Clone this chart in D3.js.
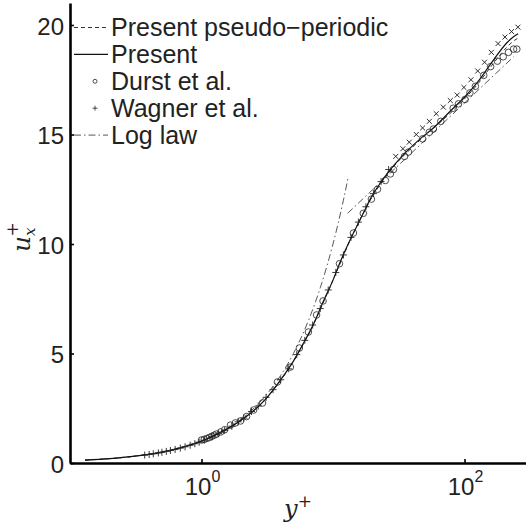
<!DOCTYPE html>
<html lang="en">
<head>
    <meta charset="UTF-8">
    <title>u+ profile</title>
    <script src="https://d3js.org/d3.v7.min.js"></script>
    <style>
        body { margin: 0; background: white; }
        .axis path, .axis line { stroke: black; }
        .axis path { stroke-width: 2.6; }
        .axis line { stroke-width: 1.6; }
        .axis text { font-family: "Liberation Sans", Arial, sans-serif; font-size: 24px; fill: #222; }
        .lbl { font-family: "Liberation Sans", Arial, sans-serif; font-size: 24px; fill: #222; }
        .math { font-family: "DejaVu Serif", "Liberation Serif", serif; font-style: italic; fill: #222; }
    </style>
</head>
<body>
<script>
    const width  = 526;
    const height = 526;

    // Present (solid)
    const presentY = [0.13, 0.2, 0.3, 0.5, 0.7, 1, 1.5, 2, 3, 4, 5, 6, 7, 8.4, 10, 11.2, 14.3, 17, 19.2, 23, 27.3, 34, 46, 58, 82, 100, 126, 166, 211, 240, 256];
    const presentU = [0.13, 0.2, 0.3, 0.5, 0.7, 1.0, 1.5, 1.95, 2.85, 3.8, 4.65, 5.5, 6.25, 7.35, 8.35, 9.1, 10.5, 11.4, 12.05, 12.8, 13.4, 14.05, 14.8, 15.3, 16.2, 16.7, 17.4, 18.4, 19.2, 19.5, 19.6];

    // Present pseudo-periodic (dashed)
    const pseudoY = [0.13, 0.3, 0.7, 1, 2, 3, 5, 7, 10, 14.3, 19.2, 27.3, 46, 82, 126, 166, 211, 240, 256];
    const pseudoU = [0.13, 0.3, 0.7, 1.0, 1.95, 2.85, 4.65, 6.25, 8.35, 10.5, 12.0, 13.35, 14.75, 16.1, 17.3, 18.25, 19.0, 19.3, 19.4];

    // Durst et al. (circles)
    const durstY = [1.0, 1.05, 1.1, 1.15, 1.2, 1.25, 1.3, 1.4, 1.5, 1.66, 1.81, 1.98, 2.2, 2.49, 2.91, 3.78, 4.74, 5.55, 6.5, 7.5, 8.4, 11.2, 14.3, 17, 19.6, 21.8, 25, 27.3, 28.8, 35, 37.5, 48, 54, 58, 66, 82, 90, 101, 110, 121, 140, 158, 178, 197, 216, 236, 250];
    const durstU = [1.05, 1.08, 1.12, 1.17, 1.22, 1.27, 1.32, 1.42, 1.52, 1.73, 1.83, 1.92, 2.12, 2.42, 2.74, 3.7, 4.38, 5.25, 5.98, 6.76, 7.4, 9.1, 10.5, 11.4, 12.05, 12.5, 12.9, 13.2, 13.4, 14.0, 14.2, 14.8, 15.1, 15.25, 15.6, 16.2, 16.4, 16.6, 16.9, 17.2, 17.7, 18.1, 18.35, 18.55, 18.75, 18.9, 18.9];

    // Wagner et al. (plus markers)
    const wagnerY = [0.37, 0.4, 0.43, 0.47, 0.5, 0.54, 0.58, 0.63, 0.69, 0.75, 0.82, 0.89, 0.96, 1.05, 1.2, 1.35, 1.5, 1.7, 1.9, 2.1, 2.4, 2.7, 3.1, 3.5, 4, 4.6, 5.3, 6.1, 7.0, 8.0, 9.2, 10.5, 12, 13.7, 15.6, 17.8, 20.3, 23.2, 26.5, 30, 34, 38, 43, 48, 54, 61, 69, 78, 88, 99, 112, 126, 142, 160, 180, 203, 228, 255];
    const wagnerU = [0.36, 0.39, 0.42, 0.46, 0.49, 0.53, 0.57, 0.62, 0.68, 0.74, 0.81, 0.88, 0.95, 1.04, 1.19, 1.34, 1.49, 1.68, 1.88, 2.05, 2.35, 2.6, 3.0, 3.35, 3.8, 4.3, 4.95, 5.6, 6.3, 7.05, 7.9, 8.7, 9.5, 10.3, 11.0, 11.7, 12.3, 12.85, 13.4, 14.0, 14.35, 14.65, 15.0, 15.3, 15.6, 15.95, 16.25, 16.55, 16.8, 17.15, 17.5, 17.9, 18.3, 18.75, 19.15, 19.45, 19.7, 19.9];

    // Log law: viscous part (u = y) and log part
    const viscY = [0.13, 0.3, 0.6, 1, 2, 3, 4, 5, 6, 7, 8, 9, 10, 11, 12, 13.1];
    const viscU = [0.13, 0.3, 0.6, 1, 2, 3, 4, 5, 6, 7, 8, 9, 10, 11, 12, 13.1];
    const logY = [12.9, 236];
    const logU = [11.4, 18.55];

    const yTicks = [0, 5, 10, 15, 20];
    const xTicks = [1, 100];
    const xTickExp = ["0", "2"];

    const legendNames = ["Present pseudo\u2212periodic", "Present", "Durst et al.", "Wagner et al.", "Log law"];

    const x = d3.scaleLog().domain([0.1, 300]).range([70, 70 + Math.log10(3000) * 131.5]);
    const y = d3.scaleLinear().domain([0, 21]).range([463, 463 - 21 * 21.9]);

    const svg = d3.select("body").append("svg").attr("width", width).attr("height", height);

    const zip = (a, b) => a.map((v, i) => [v, b[i]]);
    const line = d3.line().x(d => x(d[0])).y(d => y(d[1])).curve(d3.curveMonotoneX);
    const straight = d3.line().x(d => x(d[0])).y(d => y(d[1]));

    // log law
    svg.append("path").attr("d", line(zip(viscY, viscU)))
        .attr("fill", "none").attr("stroke", "#444").attr("stroke-width", 0.9)
        .attr("stroke-dasharray", "7,3,1.5,3");
    svg.append("path").attr("d", straight(zip(logY, logU)))
        .attr("fill", "none").attr("stroke", "#444").attr("stroke-width", 0.9)
        .attr("stroke-dasharray", "7,3,1.5,3");

    // pseudo-periodic
    svg.append("path").attr("d", line(zip(pseudoY, pseudoU)))
        .attr("fill", "none").attr("stroke", "#333").attr("stroke-width", 1)
        .attr("stroke-dasharray", "4,3");

    // present
    svg.append("path").attr("d", line(zip(presentY, presentU)))
        .attr("fill", "none").attr("stroke", "#111").attr("stroke-width", 1.2);

    // Durst circles
    svg.selectAll("circle.durst")
        .data(zip(durstY, durstU))
        .enter().append("circle").attr("class", "durst")
        .attr("cx", d => x(d[0])).attr("cy", d => y(d[1])).attr("r", 3.3)
        .attr("fill", "none").attr("stroke", "#222").attr("stroke-width", 0.8);

    // Wagner markers: '+' near the wall, drawn as 'x' in the outer part as in the figure
    svg.selectAll("path.wagner")
        .data(zip(wagnerY, wagnerU))
        .enter().append("path").attr("class", "wagner")
        .attr("d", "M-3.5,0H3.5M0,-3.5V3.5")
        .attr("transform", d => `translate(${x(d[0])},${y(d[1])})` + (d[0] > 28 ? " rotate(45)" : ""))
        .attr("stroke", "#222").attr("stroke-width", 0.9).attr("fill", "none");

    // axes
    const xAxis = d3.axisBottom(x).tickValues(xTicks).tickSizeInner(-4).tickSizeOuter(0).tickFormat("");
    const yAxis = d3.axisLeft(y).tickValues(yTicks).tickSizeInner(-4).tickSizeOuter(0).tickPadding(6);

    svg.append("g").attr("class", "axis").attr("transform", "translate(0,463)").call(xAxis);
    svg.append("g").attr("class", "axis").attr("transform", "translate(70,0)").call(yAxis)
        .selectAll("text").attr("dy", "0.38em");

    const xl = svg.selectAll("text.xt").data(xTicks).enter().append("text").attr("class", "lbl xt")
        .attr("x", d => x(d) + 1).attr("y", 495).attr("text-anchor", "middle");
    xl.append("tspan").text("10");
    xl.append("tspan").attr("dy", -13).attr("font-size", 16).text((d, i) => xTickExp[i]);

    // axis titles
    const xt = svg.append("text").attr("class", "math").attr("x", 298).attr("y", 517)
        .attr("text-anchor", "middle").attr("font-size", 24);
    xt.append("tspan").text("y");
    xt.append("tspan").attr("dy", -10).attr("font-size", 17).attr("font-style", "normal").text("+");

    const yt = svg.append("text").attr("class", "math").attr("font-size", 25)
        .attr("transform", "translate(30,252) rotate(-90)");
    yt.append("tspan").text("u");
    yt.append("tspan").attr("dy", 5).attr("font-size", 15).text("x");
    yt.append("tspan").attr("dx", -9).attr("dy", -17).attr("font-size", 17).attr("font-style", "normal").text("+");

    // legend
    const rowY = i => 27.5 + i * 26.9;
    const lg = svg.append("g");
    lg.append("line").attr("x1", 74).attr("x2", 108).attr("y1", rowY(0)).attr("y2", rowY(0))
        .attr("stroke", "#333").attr("stroke-dasharray", "4,3");
    lg.append("line").attr("x1", 74).attr("x2", 108).attr("y1", rowY(1)).attr("y2", rowY(1))
        .attr("stroke", "#111").attr("stroke-width", 1.2);
    lg.append("circle").attr("cx", 95).attr("cy", rowY(2)).attr("r", 2)
        .attr("fill", "none").attr("stroke", "#222").attr("stroke-width", 0.8);
    lg.append("path").attr("d", `M92.5,${rowY(3)}H97.5M95,${rowY(3) - 2.5}V${rowY(3) + 2.5}`)
        .attr("stroke", "#222").attr("stroke-width", 0.8);
    lg.append("line").attr("x1", 74).attr("x2", 108).attr("y1", rowY(4)).attr("y2", rowY(4))
        .attr("stroke", "#444").attr("stroke-width", 0.9).attr("stroke-dasharray", "7,3,1.5,3");
    lg.selectAll("text").data(legendNames).enter().append("text").attr("class", "lbl")
        .attr("x", 111).attr("y", (d, i) => rowY(i) + 8.5).attr("font-size", 25)
        .style("font-size", "25px").text(d => d);
</script>
</body>
</html>
